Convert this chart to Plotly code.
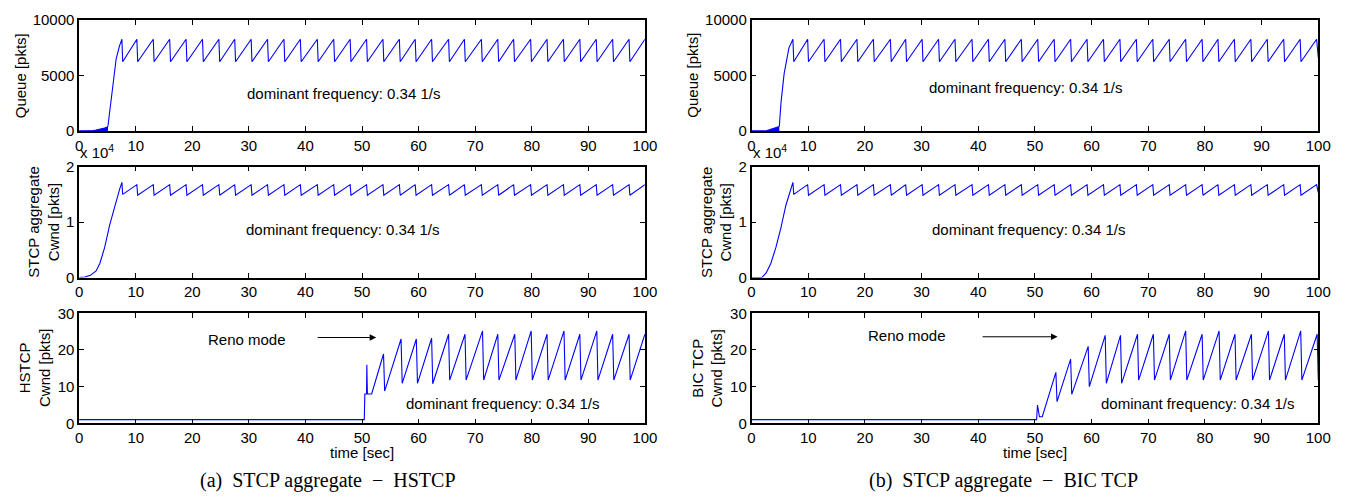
import plotly.graph_objects as go

# ---------------- data ----------------
# (a) STCP aggregate - HSTCP : bottleneck queue [pkts]
qa_burst_t = [0, 1.9, 2.5, 3.0, 3.5, 4.0, 4.5, 5.0, 5.1]
qa_burst_v = [0, 0, 40, 80, 120, 180, 250, 350, 460]
qa_t = [5.1, 5.5, 6.0, 6.55, 7.15, 7.56, 7.7,
        10.2, 10.35, 13.1, 13.25, 16.0, 16.15, 18.9, 19.05, 21.8, 21.95, 24.7, 24.85,
        27.5, 27.65, 30.4, 30.55, 33.3, 33.45, 36.2, 36.35, 39.1, 39.25, 42.1, 42.25,
        45.0, 45.15, 47.9, 48.05, 50.8, 50.95, 53.7, 53.85, 56.6, 56.75, 59.4, 59.55,
        62.3, 62.45, 65.3, 65.45, 68.1, 68.25, 71.1, 71.25, 74.0, 74.15, 76.8, 76.95,
        79.8, 79.95, 82.7, 82.85, 85.6, 85.75, 88.5, 88.65, 91.4, 91.55, 94.3, 94.45,
        97.2, 97.35, 100]
qa_v = [460, 2170, 4490, 6520, 7680, 8260, 6230,
        8260, 6230, 8260, 6230, 8260, 6230, 8260, 6230, 8260, 6230, 8260, 6230,
        8260, 6230, 8260, 6230, 8260, 6230, 8260, 6230, 8260, 6230, 8260, 6230,
        8260, 6230, 8260, 6230, 8260, 6230, 8260, 6230, 8260, 6230, 8260, 6230,
        8260, 6230, 8260, 6230, 8260, 6230, 8260, 6230, 8260, 6230, 8260, 6230,
        8260, 6230, 8260, 6230, 8260, 6230, 8260, 6230, 8260, 6230, 8260, 6230,
        8260, 6230, 8260]

# (a) STCP aggregate cwnd [pkts]
sa_t = [0, 1.0, 2.0, 3.0, 3.66, 4.5, 5.4, 6.3, 7.15, 7.56, 7.7,
        10.2, 10.35, 13.1, 13.25, 16.0, 16.15, 18.9, 19.05, 21.8, 21.95, 24.7, 24.85,
        27.5, 27.65, 30.4, 30.55, 33.3, 33.45, 36.2, 36.35, 39.1, 39.25, 42.1, 42.25,
        45.0, 45.15, 47.9, 48.05, 50.8, 50.95, 53.7, 53.85, 56.6, 56.75, 59.4, 59.55,
        62.3, 62.45, 65.3, 65.45, 68.1, 68.25, 71.1, 71.25, 74.0, 74.15, 76.8, 76.95,
        79.8, 79.95, 82.7, 82.85, 85.6, 85.75, 88.5, 88.65, 91.4, 91.55, 94.3, 94.45,
        97.2, 97.35, 100]
sa_v = [0, 100, 400, 1200, 2550, 5400, 9500, 13000, 15900, 17160, 15000,
        16750, 14840, 16750, 14840, 16750, 14840, 16750, 14840, 16750, 14840, 16750, 14840,
        16750, 14840, 16750, 14840, 16750, 14840, 16750, 14840, 16750, 14840, 16750, 14840,
        16750, 14840, 16750, 14840, 16750, 14840, 16750, 14840, 16750, 14840, 16750, 14840,
        16750, 14840, 16750, 14840, 16750, 14840, 16750, 14840, 16750, 14840, 16750, 14840,
        16750, 14840, 16750, 14840, 16750, 14840, 16750, 14840, 16750, 14840, 16750, 14840,
        16750, 14840, 16750]

# (a) HSTCP cwnd [pkts]
ha_t = [0, 50.4, 50.5, 50.8, 50.85, 50.95, 51.7,
        53.8, 54.0, 56.9, 57.1, 59.6, 59.8, 62.3, 62.5, 65.3, 65.5, 68.2, 68.4,
        71.3, 71.5, 74.0, 74.2, 77.0, 77.2, 79.9, 80.1, 82.7, 82.9, 85.7, 85.9,
        88.5, 88.7, 91.5, 91.7, 94.3, 94.5, 97.2, 97.4, 100]
ha_v = [1, 1, 8, 8, 16, 8, 8,
        18.9, 8.8, 23.0, 10.9, 23.0, 10.9, 23.2, 10.8, 24.3, 11.8, 24.3, 11.8,
        25.2, 11.8, 24.3, 11.8, 24.3, 11.8, 25.2, 11.8, 24.3, 11.8, 25.2, 11.8,
        24.3, 11.8, 25.2, 11.8, 24.3, 11.8, 24.3, 11.8, 24.3]

# (b) STCP aggregate - BIC TCP : bottleneck queue [pkts]
qb_burst_t = [0, 2.6, 3.0, 3.5, 4.0, 4.5, 4.9]
qb_burst_v = [0, 0, 80, 150, 220, 300, 400]
qb_t = [4.9, 5.2, 5.75, 6.6, 7.3, 7.45,
        9.9, 10.05, 12.8, 12.95, 15.7, 15.85, 18.6, 18.75, 21.5, 21.65, 24.5, 24.65,
        27.2, 27.35, 30.1, 30.25, 33.0, 33.15, 35.9, 36.05, 38.9, 39.05, 41.8, 41.95,
        44.7, 44.85, 47.6, 47.75, 50.5, 50.65, 53.4, 53.55, 56.3, 56.45, 59.2, 59.35,
        62.1, 62.25, 65.0, 65.15, 67.9, 68.05, 70.8, 70.95, 73.7, 73.85, 76.6, 76.75,
        79.5, 79.65, 82.3, 82.45, 85.2, 85.35, 88.1, 88.25, 91.0, 91.15, 93.9, 94.05,
        96.8, 96.95, 99.7, 100]
qb_v = [400, 2550, 5160, 7480, 8260, 6230,
        8260, 6230, 8260, 6230, 8260, 6230, 8260, 6230, 8260, 6230, 8260, 6230,
        8260, 6230, 8260, 6230, 8260, 6230, 8260, 6230, 8260, 6230, 8260, 6230,
        8260, 6230, 8260, 6230, 8260, 6230, 8260, 6230, 8260, 6230, 8260, 6230,
        8260, 6230, 8260, 6230, 8260, 6230, 8260, 6230, 8260, 6230, 8260, 6230,
        8260, 6230, 8260, 6230, 8260, 6230, 8260, 6230, 8260, 6230, 8260, 6230,
        8260, 6230, 8260, 6600]

# (b) STCP aggregate cwnd [pkts]
sb_t = [0, 1.8, 2.55, 3.4, 4.3, 5.17, 6.05, 6.9, 7.3, 7.45,
        9.9, 10.05, 12.8, 12.95, 15.7, 15.85, 18.6, 18.75, 21.5, 21.65, 24.5, 24.65,
        27.2, 27.35, 30.1, 30.25, 33.0, 33.15, 35.9, 36.05, 38.9, 39.05, 41.8, 41.95,
        44.7, 44.85, 47.6, 47.75, 50.5, 50.65, 53.4, 53.55, 56.3, 56.45, 59.2, 59.35,
        62.1, 62.25, 65.0, 65.15, 67.9, 68.05, 70.8, 70.95, 73.7, 73.85, 76.6, 76.75,
        79.5, 79.65, 82.3, 82.45, 85.2, 85.35, 88.1, 88.25, 91.0, 91.15, 93.9, 94.05,
        96.8, 96.95, 99.7, 100]
sb_v = [0, 0, 800, 2550, 5440, 8920, 12990, 15900, 17160, 15000,
        16750, 14840, 16750, 14840, 16750, 14840, 16750, 14840, 16750, 14840, 16750, 14840,
        16750, 14840, 16750, 14840, 16750, 14840, 16750, 14840, 16750, 14840, 16750, 14840,
        16750, 14840, 16750, 14840, 16750, 14840, 16750, 14840, 16750, 14840, 16750, 14840,
        16750, 14840, 16750, 14840, 16750, 14840, 16750, 14840, 16750, 14840, 16750, 14840,
        16750, 14840, 16750, 14840, 16750, 14840, 16750, 14840, 16750, 14840, 16750, 14840,
        16750, 14840, 16750, 15300]

# (b) BIC TCP cwnd [pkts]
ba_t = [0, 50.3, 50.45, 50.8, 51.3,
        53.7, 53.9, 56.3, 56.5, 59.4, 59.6, 62.4, 62.6, 65.1, 65.3, 68.1, 68.3,
        70.9, 71.1, 73.7, 73.9, 76.6, 76.8, 79.5, 79.7, 82.5, 82.7, 85.3, 85.5,
        88.2, 88.4, 91.2, 91.4, 94.0, 94.2, 96.9, 97.1, 99.8, 100]
ba_v = [1, 1, 5.0, 1.8, 1.8,
        13.9, 5.9, 17.5, 7.9, 21.0, 10.0, 24.0, 10.9, 24.0, 10.9, 24.3, 11.8,
        24.3, 11.8, 24.3, 11.8, 25.2, 11.8, 24.3, 11.8, 25.2, 11.8, 24.3, 11.8,
        24.3, 11.8, 25.2, 11.8, 24.3, 11.8, 25.2, 11.8, 24.3, 11.8]

x_ticks = [0, 10, 20, 30, 40, 50, 60, 70, 80, 90, 100]
q_ticks = [0, 5000, 10000]
q_ticktext = ["0", "5000", "10000"]
s_ticks = [0, 10000, 20000]
s_ticktext = ["0", "1", "2"]
c_ticks = [0, 10, 20, 30]
c_ticktext = ["0", "10", "20", "30"]

y_titles = ["Queue [pkts]", "Queue [pkts]",
            "STCP aggregate<br>Cwnd [pkts]", "STCP aggregate<br>Cwnd [pkts]",
            "HSTCP<br>Cwnd [pkts]", "BIC TCP<br>Cwnd [pkts]"]
captions = ["(a)  STCP aggregate  \u2212  HSTCP", "(b)  STCP aggregate  \u2212  BIC TCP"]
freq_text = "dominant frequency: 0.34 1/s"

# ---------------- layout geometry (page pixels) ----------------
PAGE_W, PAGE_H = 1362, 504
OFF = 8                      # default body margin of the html page
W, H = PAGE_W - 2 * OFF, PAGE_H - 2 * OFF
cols = [(76, 649), (757, 1331)]
rows = [(11, 126), (163, 278), (315, 429)]
SANS = "Liberation Sans, Arial, Helvetica, sans-serif"
SERIF = "Liberation Serif, Times New Roman, serif"
BLUE = "#0000ff"
FS = 15


def fx(p):
    return (p - OFF) / W


def fy(p):
    return 1 - (p - OFF) / H


fig = go.Figure()

series = [
    (1, [(qa_burst_t, qa_burst_v, True), (qa_t, qa_v, False)]),
    (2, [(qb_burst_t, qb_burst_v, True), (qb_t, qb_v, False)]),
    (3, [(sa_t, sa_v, False)]),
    (4, [(sb_t, sb_v, False)]),
    (5, [(ha_t, ha_v, False)]),
    (6, [(ba_t, ba_v, False)]),
]
for k, lst in series:
    sfx = "" if k == 1 else str(k)
    for tx, vy, filled in lst:
        fig.add_trace(go.Scatter(
            x=tx, y=vy, xaxis="x" + sfx, yaxis="y" + sfx, mode="lines",
            line=dict(color=BLUE, width=1.1),
            fill="tozeroy" if filled else None,
            fillcolor=BLUE if filled else None,
            showlegend=False, hoverinfo="skip"))

layout = dict(width=W, height=H, autosize=False, margin=dict(l=0, r=0, t=0, b=0, pad=0),
              paper_bgcolor="white", plot_bgcolor="white",
              font=dict(family=SANS, size=FS, color="black"),
              showlegend=False)

axis_common = dict(showline=True, linecolor="black", linewidth=1.5, mirror="ticks",
                   ticks="inside", ticklen=5, tickwidth=1, tickcolor="black",
                   showgrid=False, zeroline=False,
                   tickfont=dict(family=SANS, size=FS, color="black"))

yspecs = [(q_ticks, q_ticktext, [0, 10000]), (s_ticks, s_ticktext, [0, 20000]),
          (c_ticks, c_ticktext, [0, 30])]

annotations = []
for r in range(3):
    for c in range(2):
        k = r * 2 + c + 1
        sfx = "" if k == 1 else str(k)
        x0, x1 = cols[c]
        y0, y1 = rows[r]
        layout["xaxis" + sfx] = dict(axis_common, domain=[fx(x0), fx(x1)], range=[0, 100],
                                     tickmode="array", tickvals=x_ticks,
                                     anchor="y" + sfx)
        tv, tt, rg = yspecs[r]
        layout["yaxis" + sfx] = dict(axis_common, domain=[fy(y1), fy(y0)], range=rg,
                                     tickmode="array", tickvals=tv, ticktext=tt,
                                     anchor="x" + sfx)

# y-axis titles
ytitle_x = [16, 697, 40, 721, 31, 712]
for k in range(6):
    r = k // 2
    y0, y1 = rows[r]
    annotations.append(dict(text=y_titles[k], xref="paper", yref="paper",
                            x=fx(ytitle_x[k]), y=fy((y0 + y1) / 2), textangle=-90,
                            showarrow=False, xanchor="center", yanchor="middle",
                            font=dict(family=SANS, size=FS, color="black")))

# x 10^4 exponent labels
for c in range(2):
    annotations.append(dict(text="x 10<sup>4</sup>", xref="paper", yref="paper",
                            x=fx(cols[c][0] - 1), y=fy(147), xanchor="left", yanchor="middle",
                            showarrow=False, font=dict(family=SANS, size=FS, color="black")))

# dominant frequency labels (data coords)
freq_pos = [(1, 46.8, 3390), (2, 48.4, 3910), (3, 46.6, 8700), (4, 48.8, 8750),
            (5, 74.9, 5.4), (6, 78.7, 5.4)]
for k, tx, vy in freq_pos:
    sfx = "" if k == 1 else str(k)
    annotations.append(dict(text=freq_text, xref="x" + sfx, yref="y" + sfx, x=tx, y=vy,
                            showarrow=False, xanchor="center", yanchor="middle",
                            font=dict(family=SANS, size=FS, color="black")))

# Reno mode labels and arrows
reno = [(5, 29.7, 22.9, 41.9, 52.5, 23.4), (6, 27.4, 23.9, 40.5, 54.0, 23.6)]
for k, tx, ty, a0, a1, ay in reno:
    sfx = str(k)
    annotations.append(dict(text="Reno mode", xref="x" + sfx, yref="y" + sfx, x=tx, y=ty,
                            showarrow=False, xanchor="center", yanchor="middle",
                            font=dict(family=SANS, size=FS, color="black")))
    annotations.append(dict(text="", xref="x" + sfx, yref="y" + sfx, x=a1, y=ay,
                            axref="x" + sfx, ayref="y" + sfx, ax=a0, ay=ay,
                            showarrow=True, arrowhead=2, arrowsize=1.3, arrowwidth=1,
                            arrowcolor="black"))

# x-axis titles and captions
for c in range(2):
    xc = (cols[c][0] + cols[c][1]) / 2
    annotations.append(dict(text="time [sec]", xref="paper", yref="paper",
                            x=fx(xc), y=fy(459), showarrow=False,
                            xanchor="center", yanchor="middle",
                            font=dict(family=SANS, size=FS, color="black")))
cap_x = [328, 1012]
for c in range(2):
    annotations.append(dict(text=captions[c], xref="paper", yref="paper",
                            x=fx(cap_x[c]), y=fy(488), showarrow=False,
                            xanchor="center", yanchor="middle",
                            font=dict(family=SERIF, size=20, color="black")))

layout["annotations"] = annotations
fig.update_layout(**layout)

fig.write_html("out.html", config={"displayModeBar": False})
